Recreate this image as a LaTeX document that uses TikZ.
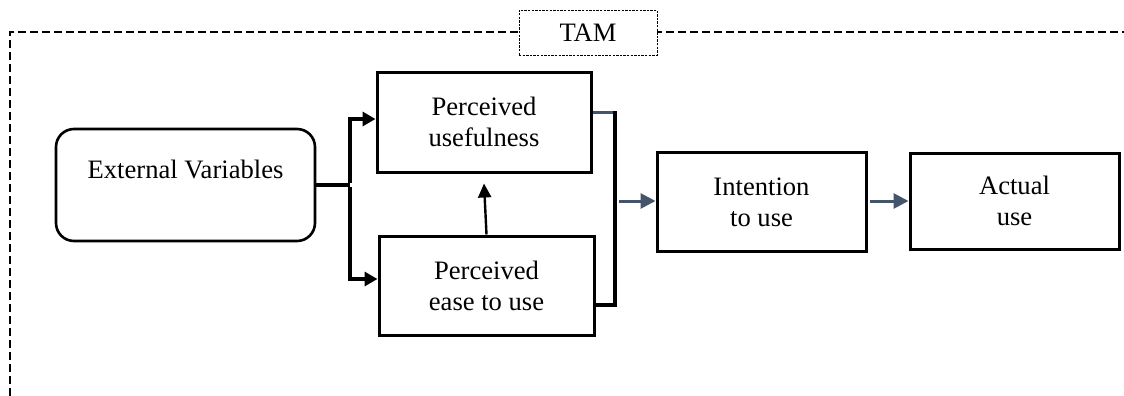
\documentclass[tikz,border=0pt]{standalone}
\usepackage{fontspec}
\setmainfont{Liberation Serif}
\usetikzlibrary{arrows.meta}
\definecolor{slate}{HTML}{44546A}

\tikzset{
    box/.style={draw, line width=1.5pt, align=center, inner sep=0pt,
        font=\fontsize{13.3pt}{15.5pt}\selectfont},
    frame/.style={line width=1pt, dash pattern=on 4pt off 2pt},
    link/.style={line width=2pt, -{Triangle[length=6.5pt,width=7pt]}},
    slatelink/.style={slate, line width=1.5pt, -{Triangle[length=7.5pt,width=7.5pt]}},
}

\begin{document}
\begin{tikzpicture}[x=0.5pt, y=-0.5pt]
    \useasboundingbox (0,0) rectangle (1124,396);
    \draw[frame] (10,396) -- (10,32) -- (1124,32);
    \node[box, line width=0.5pt, dash pattern=on 1.2pt off 0.6pt, fill=white,
        minimum width=69pt, minimum height=22.5pt] (tam) at (588,32.5) {TAM};

    \node[box, line width=1.3pt, rounded corners=9pt, minimum width=129.5pt,
        minimum height=56pt] (ev) at (185.5,185) {External Variables\\~};
    \node[box, minimum width=107pt, minimum height=50pt]
        (pu) at (484,122) {Perceived\\usefulness};
    \node[box, minimum width=107.5pt, minimum height=49.5pt]
        (peu) at (486.5,285.5) {Perceived\\ease to use};
    \node[box, minimum width=104.5pt, minimum height=49.5pt]
        (itu) at (761.5,202) {Intention\\to use};
    \node[box, minimum width=104.5pt, minimum height=48pt]
        (au) at (1014.5,201) {Actual\\use};

    % split from external variables
    \coordinate (split) at (350,185);
    \draw[line width=2pt] (ev.east) -- (split);
    \draw[link] ([yshift=1pt]split) |- ([yshift=1.5pt]pu.west);
    \draw[link] ([yshift=-1pt]split) |- ([yshift=3.25pt]peu.west);
    \draw[line width=1.2pt, -{Triangle[length=7pt,width=6.5pt]}]
        (peu.north) -- ([yshift=-5pt]pu.south);

    % join into intention
    \coordinate (jtop) at (615,112);
    \coordinate (jbot) at (615,305);
    \coordinate (jmid) at (619,201);
    \draw[slate, line width=1.5pt] ([yshift=5pt]pu.east) -- (jtop);
    \draw[line width=2pt] ([yshift=0.5pt]jtop) -- (jbot) -- ([yshift=-9.75pt]peu.east);
    \draw[slatelink] (jmid) -- (jmid -| itu.west);
    \draw[slatelink] ([xshift=1pt]itu.east |- jmid) -- (jmid -| au.west);
\end{tikzpicture}
\end{document}
